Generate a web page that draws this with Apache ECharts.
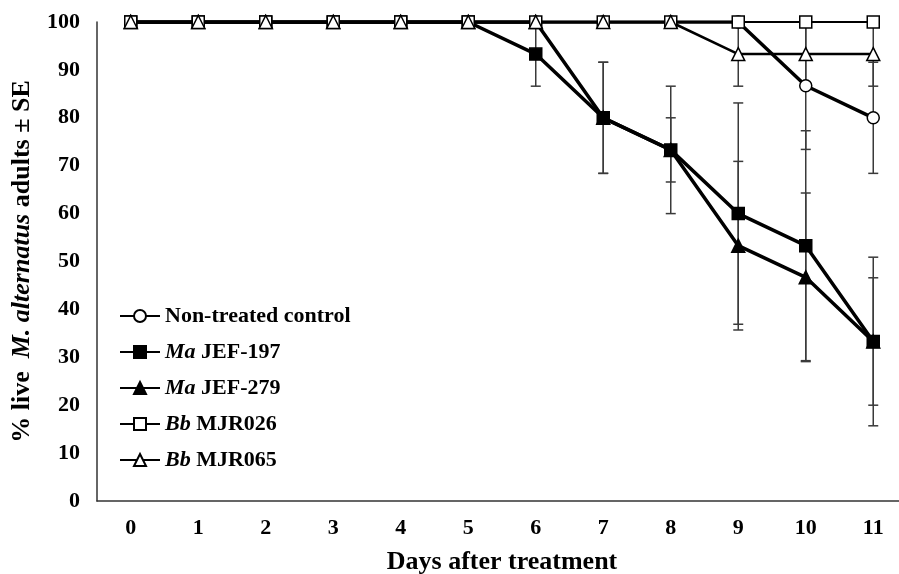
<!DOCTYPE html>
<html>
<head>
<meta charset="utf-8">
<script src="https://cdn.jsdelivr.net/npm/echarts@6/dist/echarts.min.js"></script>
<style>
  html, body { margin: 0; padding: 0; background: #fff; }
  #chart { width: 899px; height: 574px; }
</style>
</head>
<body>
<div id="chart"></div>
<script>
// days after treatment
const days = ['0', '1', '2', '3', '4', '5', '6', '7', '8', '9', '10', '11']

// % live adults
const controlVals = [100, 100, 100, 100, 100, 100, 100, 100, 100, 100, 86.7, 80]
const jef197Vals = [100, 100, 100, 100, 100, 100, 93.3, 80, 73.3, 60, 53.3, 33.3]
const jef279Vals = [100, 100, 100, 100, 100, 100, 100, 80, 73.3, 53.3, 46.7, 33.3]
const mjr026Vals = [100, 100, 100, 100, 100, 100, 100, 100, 100, 100, 100, 100]
const mjr065Vals = [100, 100, 100, 100, 100, 100, 100, 100, 100, 93.3, 93.3, 93.3]

// standard errors
const controlSE = [0, 0, 0, 0, 0, 0, 0, 0, 0, 0, 13.3, 11.6]
const jef197SE = [0, 0, 0, 0, 0, 0, 6.7, 11.6, 13.3, 23.1, 24.0, 17.6]
const jef279SE = [0, 0, 0, 0, 0, 0, 0, 11.6, 6.7, 17.6, 17.6, 13.3]
const mjr026SE = [0, 0, 0, 0, 0, 0, 0, 0, 0, 0, 0, 0]
const mjr065SE = [0, 0, 0, 0, 0, 0, 0, 0, 0, 6.7, 6.7, 6.7]

const FONT = '"Liberation Serif", "Times New Roman", serif'

const chart = echarts.init(document.getElementById('chart'))

// error bar series (custom)
const errorSeries = (vals, se) => ({
  type: 'custom',
  silent: true,
  z: 1,
  data: vals.map((v, i) => [i, v - se[i], v + se[i]]),
  renderItem: (params, api) => {
    const lo = api.value(1)
    const hi = api.value(2)
    if (hi - lo <= 0) return null
    const top = api.coord([api.value(0), hi])
    const bot = api.coord([api.value(0), lo])
    const w = 5
    const style = { stroke: '#3a3a3a', lineWidth: 1.5 }
    return {
      type: 'group',
      children: [
        { type: 'line', shape: { x1: top[0], y1: top[1], x2: bot[0], y2: bot[1] }, style },
        { type: 'line', shape: { x1: top[0] - w, y1: top[1], x2: top[0] + w, y2: top[1] }, style },
        { type: 'line', shape: { x1: bot[0] - w, y1: bot[1], x2: bot[0] + w, y2: bot[1] }, style }
      ]
    }
  }
})

const lineSeries = (name, vals, symbol, filled, width) => ({
  name,
  type: 'line',
  z: 3,
  data: vals,
  symbol,
  symbolSize: symbol === 'triangle' ? 13 : 12,
  showAllSymbol: true,
  lineStyle: { color: '#000', width },
  itemStyle: { color: filled ? '#000' : '#fff', borderColor: '#000', borderWidth: 1.5 },
  emphasis: { disabled: true }
})

const option = {
  animation: false,
  backgroundColor: '#fff',
  textStyle: { fontFamily: FONT },
  grid: { left: 97, right: -8, top: 22, bottom: 73, outerBoundsMode: 'none', containLabel: false },
  legend: {
    orient: 'vertical',
    left: 114,
    top: 299,
    itemWidth: 40,
    itemHeight: 15,
    itemGap: 12,
    data: ['Non-treated control', 'Ma JEF-197', 'Ma JEF-279', 'Bb MJR026', 'Bb MJR065'],
    formatter: (name) => {
      const parts = name.split(' ')
      if (parts[0] === 'Ma' || parts[0] === 'Bb') {
        return '{i|' + parts[0] + '} ' + parts.slice(1).join(' ')
      }
      return name
    },
    textStyle: {
      fontFamily: FONT,
      fontWeight: 'bold',
      fontSize: 22,
      color: '#000',
      lineHeight: 24,
      rich: {
        i: { fontFamily: FONT, fontWeight: 'bold', fontStyle: 'italic', fontSize: 22, color: '#000' }
      }
    }
  },
  xAxis: {
    type: 'category',
    data: days,
    boundaryGap: true,
    name: 'Days after treatment',
    nameLocation: 'middle',
    nameGap: 48,
    nameTextStyle: { fontFamily: FONT, fontWeight: 'bold', fontSize: 26, color: '#000' },
    axisLine: { lineStyle: { color: '#333', width: 1.5 } },
    axisTick: { show: false },
    axisLabel: { fontFamily: FONT, fontWeight: 'bold', fontSize: 22, color: '#000', margin: 16 },
    splitLine: { show: false }
  },
  yAxis: {
    type: 'value',
    min: 0,
    max: 100,
    interval: 10,
    name: '% live  {i|M. alternatus} adults ± SE',
    nameLocation: 'middle',
    nameGap: 62,
    nameRotate: 90,
    nameTextStyle: {
      fontFamily: FONT, fontWeight: 'bold', fontSize: 26, color: '#000',
      rich: {
        i: { fontFamily: FONT, fontWeight: 'bold', fontStyle: 'italic', fontSize: 26, color: '#000' }
      }
    },
    axisLine: { show: true, lineStyle: { color: '#333', width: 1.5 } },
    axisTick: { show: false },
    axisLabel: { fontFamily: FONT, fontWeight: 'bold', fontSize: 22, color: '#000', margin: 17 },
    splitLine: { show: false }
  },
  series: [
    errorSeries(controlVals, controlSE),
    errorSeries(jef197Vals, jef197SE),
    errorSeries(jef279Vals, jef279SE),
    errorSeries(mjr026Vals, mjr026SE),
    errorSeries(mjr065Vals, mjr065SE),
    lineSeries('Non-treated control', controlVals, 'circle', false, 3.5),
    lineSeries('Ma JEF-197', jef197Vals, 'rect', true, 3.5),
    lineSeries('Ma JEF-279', jef279Vals, 'triangle', true, 3.5),
    lineSeries('Bb MJR026', mjr026Vals, 'rect', false, 2),
    lineSeries('Bb MJR065', mjr065Vals, 'triangle', false, 2.5)
  ]
}

chart.setOption(option)
</script>
</body>
</html>
